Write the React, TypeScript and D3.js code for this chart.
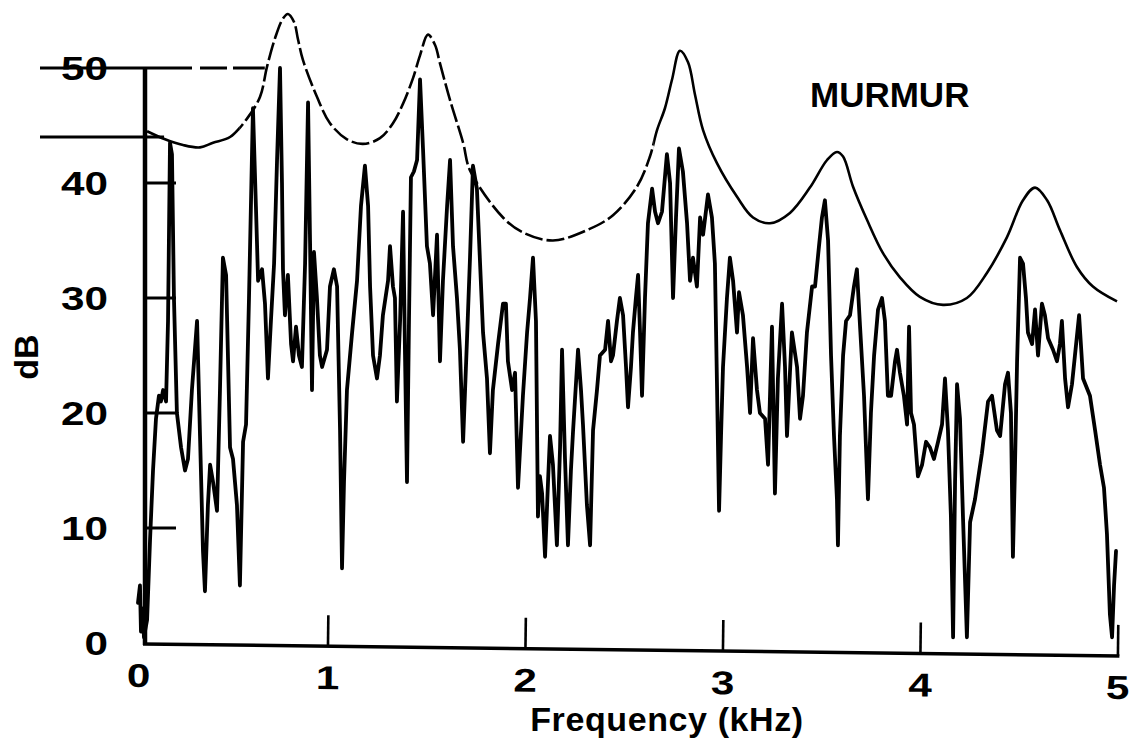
import React from "react";
import * as d3 from "d3";

// ---- data -------------------------------------------------------------
const X_TICKS = [0, 1, 2, 3, 4, 5];
const Y_TICKS = [0, 10, 20, 30, 40, 50];
const TITLE = "MURMUR";
const X_LABEL = "Frequency (kHz)";
const Y_LABEL = "dB";

// horizontal reference levels (dB) and the frequency where each one stops
const REF_LEVELS = [50, 44];
const REF_END_KHZ = [0.68, 0.17];

// smoothed spectral envelope
const envelopeKHz = [
  0.084, 0.175, 0.266, 0.352, 0.418, 0.504, 0.59, 0.656, 0.691, 0.732, 0.772, 0.797,
  0.828, 0.848, 0.873, 0.944, 1.01, 1.096, 1.177, 1.263, 1.329, 1.38, 1.43, 1.466,
  1.506, 1.542, 1.567, 1.618, 1.684, 1.719, 1.886, 1.987, 2.139, 2.311, 2.443, 2.565,
  2.63, 2.666, 2.706, 2.742, 2.782, 2.823, 2.858, 2.899, 2.97, 3.071, 3.152, 3.238,
  3.339, 3.44, 3.527, 3.577, 3.608, 3.658, 3.729, 3.81, 3.896, 3.997, 4.114, 4.235,
  4.337, 4.438, 4.519, 4.58, 4.641, 4.706, 4.792, 4.873, 4.995,
];
const envelopeDb = [
  44.5, 43.8, 43.3, 43.1, 43.5, 44.0, 45.6, 47.5, 50.1, 52.6, 54.3, 54.7,
  54.0, 52.5, 50.7, 47.5, 45.2, 43.8, 43.4, 43.9, 45.2, 46.9, 49.1, 51.1,
  52.9, 52.0, 50.4, 47.2, 43.5, 41.1, 37.0, 35.7, 35.0, 35.9, 37.2, 39.7,
  42.3, 44.6, 46.5, 49.0, 51.5, 50.5, 47.7, 44.6, 41.7, 38.8, 37.0, 36.5,
  37.4, 39.6, 42.0, 42.7, 42.3, 39.7, 36.8, 33.9, 31.8, 30.1, 29.4, 30.0,
  32.2, 35.3, 38.5, 39.6, 38.5, 35.9, 32.7, 31.0, 29.7,
];

// short-time spectrum
const spectrumKHz = [
  0.038, 0.048, 0.053, 0.063, 0.068, 0.084, 0.099, 0.114, 0.129, 0.144, 0.154, 0.165,
  0.18, 0.19, 0.2, 0.21, 0.22, 0.235, 0.256, 0.276, 0.291, 0.311, 0.337, 0.352,
  0.367, 0.377, 0.392, 0.403, 0.418, 0.438, 0.453, 0.468, 0.484, 0.504, 0.519, 0.539,
  0.554, 0.57, 0.585, 0.6, 0.62, 0.635, 0.646, 0.666, 0.681, 0.696, 0.711, 0.727,
  0.742, 0.757, 0.767, 0.772, 0.782, 0.797, 0.813, 0.823, 0.838, 0.853, 0.868, 0.884,
  0.899, 0.909, 0.919, 0.929, 0.944, 0.959, 0.97, 0.995, 1.01, 1.03, 1.046, 1.061,
  1.071, 1.081, 1.096, 1.122, 1.147, 1.167, 1.187, 1.203, 1.213, 1.228, 1.248, 1.263,
  1.278, 1.304, 1.314, 1.329, 1.339, 1.349, 1.365, 1.38, 1.39, 1.4, 1.41, 1.42,
  1.435, 1.451, 1.466, 1.481, 1.501, 1.516, 1.532, 1.552, 1.567, 1.582, 1.603, 1.618,
  1.633, 1.653, 1.668, 1.684, 1.704, 1.719, 1.734, 1.754, 1.77, 1.785, 1.805, 1.82,
  1.835, 1.861, 1.886, 1.901, 1.911, 1.932, 1.947, 1.962, 1.987, 2.008, 2.023, 2.038,
  2.053, 2.063, 2.073, 2.084, 2.099, 2.114, 2.124, 2.139, 2.159, 2.175, 2.185, 2.2,
  2.215, 2.23, 2.241, 2.266, 2.281, 2.291, 2.311, 2.327, 2.342, 2.362, 2.377, 2.403,
  2.418, 2.433, 2.443, 2.463, 2.478, 2.494, 2.509, 2.519, 2.534, 2.544, 2.559, 2.57,
  2.58, 2.59, 2.605, 2.62, 2.641, 2.656, 2.671, 2.691, 2.706, 2.716, 2.732, 2.747,
  2.762, 2.777, 2.797, 2.818, 2.833, 2.848, 2.868, 2.884, 2.899, 2.924, 2.944, 2.959,
  2.97, 2.98, 2.99, 3.0, 3.02, 3.035, 3.051, 3.071, 3.081, 3.101, 3.122, 3.137,
  3.152, 3.172, 3.187, 3.213, 3.228, 3.248, 3.263, 3.278, 3.299, 3.314, 3.324, 3.339,
  3.349, 3.375, 3.39, 3.405, 3.425, 3.451, 3.466, 3.486, 3.501, 3.516, 3.532, 3.547,
  3.562, 3.577, 3.582, 3.592, 3.608, 3.623, 3.643, 3.663, 3.678, 3.694, 3.714, 3.724,
  3.734, 3.749, 3.765, 3.785, 3.805, 3.82, 3.835, 3.851, 3.871, 3.881, 3.896, 3.916,
  3.932, 3.942, 3.952, 3.967, 3.987, 4.008, 4.028, 4.048, 4.068, 4.089, 4.109, 4.124,
  4.139, 4.154, 4.165, 4.175, 4.185, 4.2, 4.215, 4.235, 4.251, 4.276, 4.311, 4.342,
  4.362, 4.387, 4.403, 4.428, 4.443, 4.458, 4.468, 4.478, 4.489, 4.504, 4.519, 4.534,
  4.544, 4.565, 4.58, 4.595, 4.615, 4.63, 4.646, 4.671, 4.691, 4.706, 4.716, 4.732,
  4.747, 4.767, 4.782, 4.803, 4.823, 4.858, 4.884, 4.909, 4.929, 4.944, 4.959, 4.97,
  4.98, 4.99,
];
const spectrumDb = [
  3.5, 5.0, 1.0, 3.0, 0.5, 2.0, 9.0, 15.0, 19.5, 21.5, 21.0, 22.0,
  21.0, 28.0, 43.5, 42.5, 30.0, 20.0, 17.0, 15.0, 16.0, 22.0, 28.0, 18.0,
  8.0, 4.5, 12.0, 15.5, 14.0, 11.5, 22.0, 33.5, 32.0, 17.0, 16.0, 12.0,
  5.0, 17.5, 19.0, 30.0, 46.5, 38.0, 31.5, 32.5, 29.5, 23.0, 28.0, 33.0,
  42.0, 50.0, 40.0, 32.5, 28.5, 32.0, 26.0, 24.5, 27.5, 25.0, 24.0, 33.0,
  47.0, 35.0, 22.0, 34.0, 30.0, 25.0, 24.0, 25.5, 31.0, 32.5, 31.0, 18.5,
  6.5, 14.0, 22.0, 27.0, 31.5, 38.0, 41.5, 38.0, 31.0, 25.0, 23.0, 25.0,
  28.5, 31.5, 34.5, 31.0, 30.0, 21.0, 28.0, 37.5, 25.0, 14.0, 28.0, 40.5,
  41.0, 42.0, 49.0, 43.0, 34.5, 33.0, 28.5, 35.5, 24.5, 31.5, 38.0, 42.0,
  34.5, 30.0, 25.5, 17.5, 26.5, 33.5, 41.5, 39.5, 33.0, 27.0, 23.0, 16.5,
  22.0, 26.0, 29.5, 29.5, 24.5, 22.0, 23.5, 13.5, 21.5, 27.0, 30.0, 33.5,
  28.0, 11.0, 14.5, 13.0, 7.5, 14.0, 18.0, 15.5, 8.5, 17.0, 25.5, 16.0,
  8.5, 15.0, 18.5, 25.5, 22.0, 19.0, 12.0, 8.5, 18.5, 22.0, 25.0, 25.5,
  28.0, 24.5, 25.0, 28.0, 30.0, 28.5, 24.0, 20.5, 24.0, 27.0, 30.0, 32.0,
  27.0, 21.5, 30.0, 36.5, 39.5, 37.5, 36.5, 37.5, 40.5, 42.5, 40.0, 30.0,
  37.0, 43.0, 41.0, 36.5, 31.5, 33.5, 31.0, 37.0, 35.5, 39.0, 37.0, 33.0,
  22.0, 11.5, 18.0, 24.0, 30.0, 33.5, 31.5, 27.0, 30.5, 28.5, 24.0, 20.0,
  26.5, 22.0, 20.0, 19.5, 15.5, 27.5, 13.0, 23.0, 29.5, 24.0, 18.0, 23.5,
  27.0, 24.0, 19.5, 21.5, 27.0, 31.0, 31.0, 34.5, 37.0, 38.5, 35.0, 25.0,
  18.0, 12.5, 8.5, 18.0, 25.0, 28.0, 28.5, 31.0, 32.5, 27.5, 21.5, 17.0,
  12.5, 20.0, 25.0, 29.0, 30.0, 28.0, 21.5, 21.5, 24.5, 25.5, 23.5, 21.5,
  19.0, 27.5, 20.0, 19.0, 14.5, 15.5, 17.5, 17.0, 16.0, 17.5, 19.0, 23.0,
  18.5, 11.0, 0.5, 14.0, 22.5, 19.5, 11.0, 0.5, 10.5, 12.5, 16.5, 21.0,
  21.5, 18.5, 18.0, 22.5, 23.5, 20.0, 7.5, 15.0, 24.5, 33.5, 33.0, 30.0,
  27.0, 26.0, 29.0, 25.0, 29.5, 28.5, 26.5, 25.5, 24.5, 26.0, 28.0, 23.0,
  20.5, 22.5, 25.0, 28.5, 23.0, 21.5, 18.5, 15.5, 13.5, 9.5, 2.5, 0.5,
  5.0, 8.0,
];

// ---- layout -----------------------------------------------------------
const W = 1131;
const H = 746;
const FONT = "'Liberation Sans', Arial, Helvetica, sans-serif";
const INK = "#000";

const x = d3.scaleLinear().domain([0, 5]).range([130.5, 1118]);
const y = d3.scaleLinear().domain([0, 50]).range([643, 68]);

const AXIS_X = 145; // vertical axis line
const AXIS_TILT = 0.7; // degrees, the frequency axis runs slightly downhill
const DIGIT_STRETCH = 1.28; // wide numerals

const spectrum = spectrumKHz.map((f, i) => [f, spectrumDb[i]] as [number, number]);
const envelope = envelopeKHz.map((f, i) => [f, envelopeDb[i]] as [number, number]);

const spectrumLine = d3
  .line<[number, number]>()
  .x((d) => x(d[0]))
  .y((d) => y(d[1]));

const envelopeLine = d3
  .line<[number, number]>()
  .x((d) => x(d[0]))
  .y((d) => y(d[1]))
  .curve(d3.curveCatmullRom.alpha(0.5));

const DASHED_FROM = 0.55;
const DASHED_TO = 2.65;

export default function App() {
  const envPath = envelopeLine(envelope) ?? "";
  const specPath = spectrumLine(spectrum) ?? "";
  const y0 = y(0);

  return (
    <svg
      width={W}
      height={H}
      viewBox={`0 0 ${W} ${H}`}
      style={{ position: "absolute", left: 0, top: 0, background: "#fff", display: "block" }}
      fontFamily={FONT}
    >
      <rect width={W} height={H} fill="#fff" />
      <defs>
        <clipPath id="env-solid">
          <rect x={0} y={0} width={x(DASHED_FROM)} height={H} />
          <rect x={x(DASHED_TO)} y={0} width={W - x(DASHED_TO)} height={H} />
        </clipPath>
        <clipPath id="env-dashed">
          <rect x={x(DASHED_FROM)} y={0} width={x(DASHED_TO) - x(DASHED_FROM)} height={H} />
        </clipPath>
      </defs>

      {/* reference levels at the left */}
      <line
        x1={40}
        x2={x(REF_END_KHZ[0])}
        y1={y(REF_LEVELS[0])}
        y2={y(REF_LEVELS[0])}
        stroke={INK}
        strokeWidth={3}
        strokeDasharray="152 8 27 6 32"
      />
      <line
        x1={40}
        x2={x(REF_END_KHZ[1])}
        y1={y(REF_LEVELS[1])}
        y2={y(REF_LEVELS[1])}
        stroke={INK}
        strokeWidth={3}
      />

      {/* y axis */}
      <line x1={AXIS_X} x2={AXIS_X} y1={y(50)} y2={y0 + 2} stroke={INK} strokeWidth={4.5} />
      {Y_TICKS.filter((t) => t > 0 && t < 50).map((t) => (
        <line key={`yt${t}`} x1={AXIS_X} x2={AXIS_X + 31} y1={y(t)} y2={y(t)} stroke={INK} strokeWidth={3} />
      ))}
      {Y_TICKS.map((t) => (
        <g key={`yl${t}`} transform={`translate(108,${y(t) + 12}) scale(${DIGIT_STRETCH},1)`}>
          <text textAnchor="end" fontSize={33} fontWeight="bold" fill={INK}>
            {t}
          </text>
        </g>
      ))}

      {/* x axis */}
      <g transform={`rotate(${AXIS_TILT},${AXIS_X},${y0})`}>
        <line x1={AXIS_X - 2} x2={x(5) + 1.5} y1={y0 + 1} y2={y0 + 1} stroke={INK} strokeWidth={3.5} />
        {X_TICKS.filter((t) => t > 0).map((t) => (
          <line key={`xt${t}`} x1={x(t)} x2={x(t)} y1={y0 + 1} y2={y0 - 30} stroke={INK} strokeWidth={2.6} />
        ))}
        {X_TICKS.map((t) => (
          <g
            key={`xl${t}`}
            transform={`translate(${t === 0 ? AXIS_X - 6 : x(t)},${y0 + 44}) scale(${DIGIT_STRETCH},1)`}
          >
            <text textAnchor="middle" fontSize={33} fontWeight="bold" fill={INK}>
              {t}
            </text>
          </g>
        ))}
      </g>

      {/* envelope: solid ends, broken middle */}
      <path d={envPath} fill="none" stroke={INK} strokeWidth={2.6} clipPath="url(#env-solid)" />
      <path
        d={envPath}
        fill="none"
        stroke={INK}
        strokeWidth={2.6}
        strokeDasharray="18 4"
        clipPath="url(#env-dashed)"
      />

      {/* spectrum */}
      <path
        d={specPath}
        fill="none"
        stroke={INK}
        strokeWidth={3.8}
        strokeLinejoin="round"
        strokeLinecap="round"
      />

      {/* labels */}
      <text x={810} y={107} fontSize={35} fontWeight="bold" fill={INK}>
        {TITLE}
      </text>
      <text x={667} y={731} textAnchor="middle" fontSize={34} fontWeight="bold" letterSpacing={0.6} fill={INK}>
        {X_LABEL}
      </text>
      <text
        transform={`translate(38,357) rotate(-90)`}
        textAnchor="middle"
        fontSize={34}
        fontWeight="bold"
        fill={INK}
      >
        {Y_LABEL}
      </text>
    </svg>
  );
}
